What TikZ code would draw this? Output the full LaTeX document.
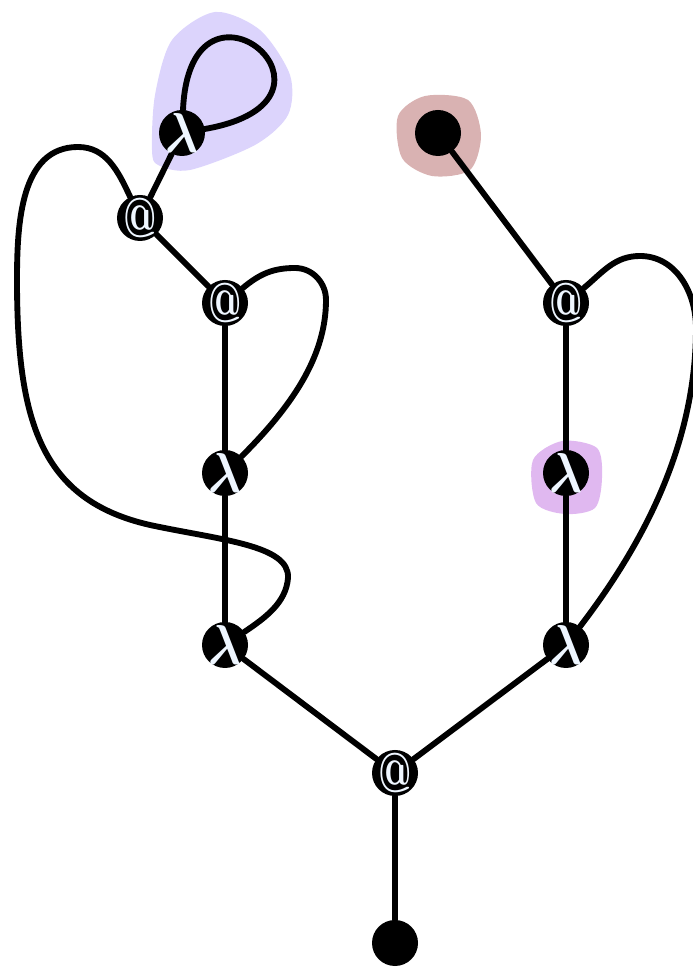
\documentclass[tikz,border=0pt]{standalone}
\usepackage{graphicx}
\usepackage{amsbsy}
\pgfdeclarelayer{blob}
\pgfdeclarelayer{wires}
\pgfsetlayers{blob,wires,main}
\definecolor{lbl}{RGB}{238,246,255}
\definecolor{hlblue}{RGB}{220,212,252}
\definecolor{hlrose}{RGB}{217,178,178}
\definecolor{hlmauve}{RGB}{224,184,240}
\newcommand\lamlbl{\scalebox{4.2}[4.8]{$\boldsymbol{\lambda}$}}
\newcommand\applbl{\scalebox{3.2}[4.8]{\bfseries @}}
\begin{document}
\begin{tikzpicture}[
  x=0.03cm, y=0.03cm,
  nd/.style={circle, fill=black, minimum size=1.38cm, inner sep=0pt},
  glyph/.style={inner sep=0pt, text=lbl},
  lam/.style={nd, label={[glyph]center:\lamlbl}},
  app/.style={nd, label={[glyph]center:\applbl}},
  wire/.style={line width=5pt, black, line cap=round},
  hl/.style={draw=none}
]
  \useasboundingbox (0,0) rectangle (693,968);
  %% --- Vertices ---
  \node[lam] (lamtop) at (182,835) {};
  \node[app] (appa)   at (140,750) {};
  \node[app] (appb)   at (225,665) {};
  \node[lam] (lamb)   at (225,495) {};
  \node[lam] (lamc)   at (225,323) {};
  \node[app] (approot) at (395,195) {};
  \node[nd]  (leafbot) at (395,25) {};
  \node[nd]  (leaftop) at (438,835) {};
  \node[app] (appc)   at (566,665) {};
  \node[lam] (lamd)   at (566,495) {};
  \node[lam] (lame)   at (566,323) {};
  %% --- Highlights ---
  \begin{pgfonlayer}{blob}
    \fill[hl, hlblue] plot[smooth cycle] coordinates
      {(152,818) (155,873) (172,928) (215,956) (260,938) (290,893) (288,853) (255,823) (190,798) (158,803)};
    \fill[hl, hlrose] plot[smooth cycle] coordinates
      {(398,852) (425,872) (468,868) (481,833) (470,798) (432,792) (402,810)};
    \fill[hl, hlmauve] plot[smooth cycle] coordinates
      {(533,508) (562,527) (597,520) (602,490) (595,460) (565,454) (536,465)};
  \end{pgfonlayer}
  %% --- Edges ---
  \begin{pgfonlayer}{wires}
    \draw[wire] (lamtop) -- (appa);
    \draw[wire] (lamtop) .. controls (190,1018) and (370,868) .. (lamtop);
    \draw[wire] (appa) -- (appb);
    \draw[wire] (appa) to[out=115,in=0] (78,821) to[out=180,in=90] (17,688)
      .. controls (17,548) and (40,468) .. (150,443)
      .. controls (220,428) and (290,423) .. (288,390)
      .. controls (286,365) and (265,350) .. (lamc);
    \draw[wire] (appb) -- (lamb);
    \draw[wire] (appb) to[out=40,in=180] (295,700) to[out=0,in=90] (326,668)
      .. controls (326,610) and (290,560) .. (lamb);
    \draw[wire] (lamb) -- (lamc);
    \draw[wire] (lamc) -- (approot);
    \draw[wire] (approot) -- (leafbot);
    \draw[wire] (leaftop) -- (appc);
    \draw[wire] (appc) -- (lamd);
    \draw[wire] (appc) to[out=40,in=180] (640,712) to[out=0,in=90] (696,640)
      .. controls (696,520) and (640,420) .. (lame);
    \draw[wire] (lamd) -- (lame);
    \draw[wire] (lame) -- (approot);
  \end{pgfonlayer}
\end{tikzpicture}
\end{document}
